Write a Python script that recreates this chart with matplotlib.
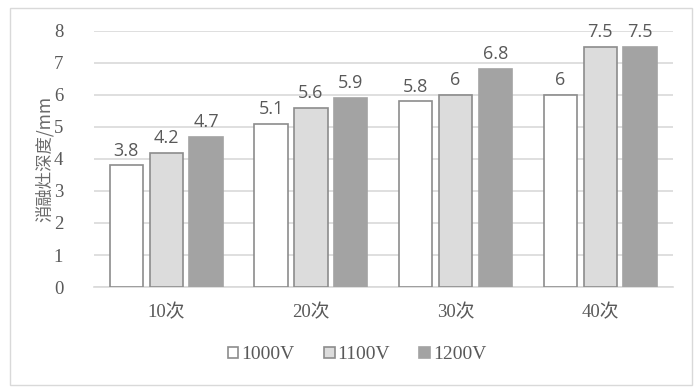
import matplotlib
matplotlib.use("Agg")
import matplotlib.pyplot as plt
import numpy as np
from matplotlib.patches import Rectangle

categories = ["10次", "20次", "30次", "40次"]
series_names = ["1000V", "1100V", "1200V"]
v1000 = [3.8, 5.1, 5.8, 6]
v1100 = [4.2, 5.6, 6, 7.5]
v1200 = [4.7, 5.9, 6.8, 7.5]
yticks = [0, 1, 2, 3, 4, 5, 6, 7, 8]

fig = plt.figure(figsize=(7, 3.9), dpi=100)
ax = fig.add_axes([0.134, 0.264, 0.827, 0.657])

fills = ["#ffffff", "#dcdcdc", "#a3a3a3"]
edges = ["#8c8c8c", "#8c8c8c", "#a3a3a3"]
x = np.arange(len(categories))
offsets = [-0.275, 0, 0.275]
width = 0.23
text_col = "#595959"
handles = []
for vals, off, fc, ec, name in zip([v1000, v1100, v1200], offsets, fills, edges, series_names):
    bars = ax.bar(x + off, vals, width, color=fc, edgecolor=ec, linewidth=1.2, zorder=3, label=name)
    handles.append(bars)
    for xi, v in zip(x + off, vals):
        ax.text(xi, v + 0.18, f"{v:g}", ha="center", va="bottom", fontsize=13,
                color=text_col, family="Open Sans")

ax.set_xlim(-0.5, 3.5)
ax.set_ylim(0, 8)
ax.set_yticks(yticks)
ax.set_yticklabels([str(t) for t in yticks], family="Liberation Serif", fontsize=13.5, color=text_col)
ax.set_xticks(x)
ax.set_xticklabels(categories, family=["Liberation Serif", "Noto Sans CJK SC"], fontsize=13.5, color=text_col)
ax.tick_params(axis="both", length=0)
ax.tick_params(axis="y", pad=22)
ax.tick_params(axis="x", pad=12)
ax.grid(axis="y", color="#d9d9d9", linewidth=1.2, zorder=0)
for s in ["top", "right", "left"]:
    ax.spines[s].set_visible(False)
ax.spines["bottom"].set_color("#d9d9d9")
ax.spines["bottom"].set_linewidth(1.2)
ax.set_ylabel("消融灶深度/mm", family="Noto Sans CJK SC", fontsize=12.5, color="#6a6a6a", labelpad=0)

leg = fig.legend(handles=handles, labels=series_names, loc="center", bbox_to_anchor=(0.51, 0.09),
                 ncol=3, frameon=False, handlelength=0.55, handleheight=0.55, handletextpad=0.15,
                 columnspacing=1.5, prop={"family": "Liberation Serif", "size": 14})
for t in leg.get_texts():
    t.set_color(text_col)

fig.patches.append(Rectangle((0.014, 0.013), 0.974, 0.967, transform=fig.transFigure,
                             fill=False, edgecolor="#d9d9d9", linewidth=1.0))

fig.savefig("out.png", dpi=100)
